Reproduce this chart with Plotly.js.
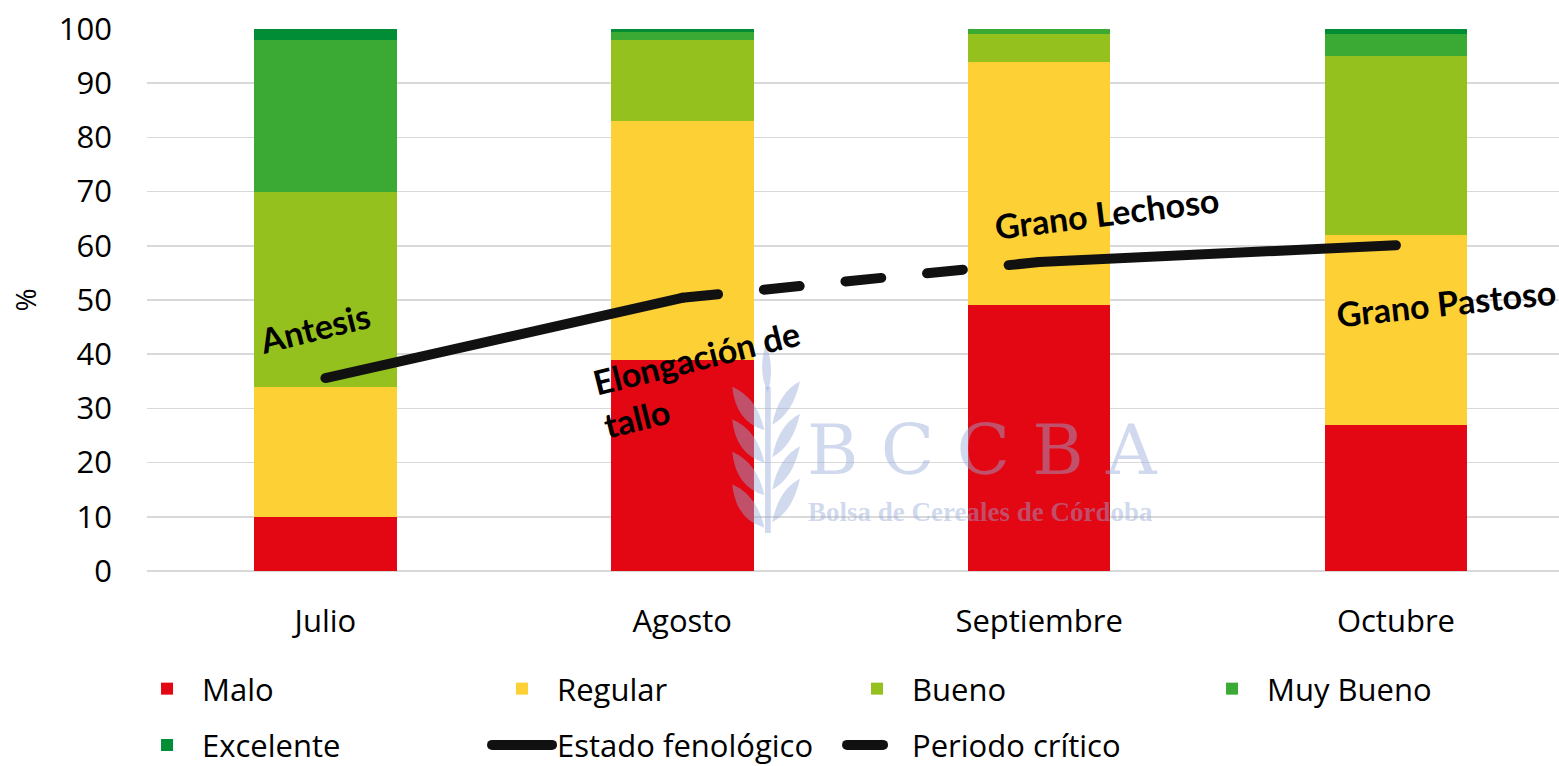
<!DOCTYPE html>
<html>
<head>
<meta charset="utf-8">
<script src="https://cdn.plot.ly/plotly-3.0.1.min.js"></script>
<style>
html,body{margin:0;padding:0;background:#fff;}
#chart{width:1559px;height:766px;}
.js-line{stroke-linecap:round;}
</style>
</head>
<body>
<div id="chart"></div>
<script>
const months = ["Julio", "Agosto", "Septiembre", "Octubre"];
const malo = [10, 39, 49, 27];
const regular = [24, 44, 45, 35];
const bueno = [36, 15, 5, 33];
const muyBueno = [28, 1.5, 1, 4];
const excelente = [2, 0.5, 0, 1];
const estadoA = [35.6, 50.4, null, null];
const estadoB = [null, null, 57, 60.1];
const periodo = [null, 50.4, 57, null];
const seriesNames = ["Malo", "Regular", "Bueno", "Muy Bueno", "Excelente", "Estado fenológico", "Periodo crítico"];
const colors = ["#e30613", "#fdd036", "#95c11f", "#3aaa35", "#008d36"];
const stageLabels = ["Antesis", "Elongación de<br>tallo", "Grano Lechoso", "Grano Pastoso"];

const FONT = "'Open Sans', 'Noto Sans', sans-serif";
const BFONT = "Lato, 'Noto Sans', sans-serif";
const FS = 31;
const barVals = [malo, regular, bueno, muyBueno, excelente];
const traces = barVals.map((v, i) => ({
  type: "bar", x: months, y: v, name: seriesNames[i],
  marker: {color: colors[i]}, width: 0.4,
  legend: i < 4 ? "legend" : "legend2",
  hoverinfo: "x+y+name"
}));
const lineStyle = {color: "#111111", width: 10};
traces.push({type: "scatter", mode: "lines", x: months, y: estadoA, name: seriesNames[5],
  line: lineStyle, legend: "legend2", legendgroup: "ef", connectgaps: false});
traces.push({type: "scatter", mode: "lines", x: months, y: estadoB, name: seriesNames[5],
  line: lineStyle, legend: "legend2", legendgroup: "ef", showlegend: false, connectgaps: false});
traces.push({type: "scatter", mode: "lines", x: months, y: periodo, name: seriesNames[6],
  line: {color: "#111111", width: 10, dash: "36px,46px"}, legend: "legend2", connectgaps: false});

const legendCommon = {orientation: "h", xanchor: "left", yanchor: "middle",
  entrywidth: 280, entrywidthmode: "pixels", itemwidth: 60,
  font: {family: FONT, size: FS, color: "#000"}, bgcolor: "rgba(0,0,0,0)", traceorder: "normal"};

const wm = "rgba(150,170,215,0.45)";
const annotations = [
  {text: stageLabels[0], x: -0.03, y: 45, xref: "x", yref: "y", textangle: -14},
  {text: stageLabels[1], x: 1.055, y: 35.5, xref: "x", yref: "y", textangle: -14, align: "left"},
  {text: stageLabels[2], x: 2.19, y: 66.2, xref: "x", yref: "y", textangle: -7},
  {text: stageLabels[3], x: 3.14, y: 49.6, xref: "x", yref: "y", textangle: -6}
].map(a => Object.assign({showarrow: false, font: {family: BFONT, size: 34, color: "#000", weight: "bold"}}, a));
annotations.push({text: "B C C B A", x: 1.84, y: 22.3, xref: "x", yref: "y", showarrow: false,
  font: {family: "'DejaVu Serif', 'Liberation Serif', serif", size: 70, color: wm}});
annotations.push({text: "Bolsa de Cereales de Córdoba", x: 1.835, y: 10.9, xref: "x", yref: "y", showarrow: false,
  font: {family: "'Liberation Serif', 'DejaVu Serif', serif", size: 27, color: wm, weight: "bold"}});

// wheat icon of the watermark (decorative)
const shapes = [];
const wx = 1.24, wy = 8;
shapes.push({type: "path", xref: "x", yref: "y", layer: "above", line: {width: 0}, fillcolor: wm,
  path: `M ${wx-0.008},${wy-1} L ${wx+0.008},${wy-1} L ${wx+0.008},${wy+26} L ${wx-0.008},${wy+26} Z`});
for (let k = 0; k < 4; k++) {
  const yy = wy + k * 6;
  shapes.push({type: "path", xref: "x", yref: "y", layer: "above", line: {width: 0}, fillcolor: wm,
    path: `M ${wx-0.01},${yy} Q ${wx-0.09},${yy+1.5} ${wx-0.1},${yy+8} Q ${wx-0.03},${yy+6} ${wx-0.01},${yy} Z`});
  shapes.push({type: "path", xref: "x", yref: "y", layer: "above", line: {width: 0}, fillcolor: wm,
    path: `M ${wx+0.012},${yy+1} Q ${wx+0.07},${yy+3} ${wx+0.09},${yy+9} Q ${wx+0.03},${yy+7} ${wx+0.012},${yy+1} Z`});
}
shapes.push({type: "path", xref: "x", yref: "y", layer: "above", line: {width: 0}, fillcolor: wm,
  path: `M ${wx},${wy+25} Q ${wx-0.03},${wy+29} ${wx-0.005},${wy+34} Q ${wx+0.02},${wy+29} ${wx},${wy+25} Z`});

const layout = {
  width: 1559, height: 766,
  margin: {l: 147, r: 0, t: 29, b: 195, autoexpand: false},
  paper_bgcolor: "#fff", plot_bgcolor: "#fff",
  barmode: "stack", bargap: 0.6,
  font: {family: FONT, size: FS, color: "#000"},
  xaxis: {type: "category", range: [-0.5, 3.457], showgrid: false, zeroline: false, showline: false,
    ticks: "", tickfont: {family: FONT, size: FS, color: "#000"}, ticklabelstandoff: 29, fixedrange: true},
  yaxis: {range: [0, 100], dtick: 10, showgrid: true, gridcolor: "#d9d9d9", gridwidth: 1.5,
    zeroline: true, zerolinecolor: "#d9d9d9", zerolinewidth: 1.5, showline: false, ticks: "",
    ticklabelstandoff: 34,
    tickfont: {family: FONT, size: FS, color: "#000"},
    title: {text: "%", font: {family: FONT, size: 28, color: "#000"}, standoff: 14}},
  legend: Object.assign({x: -0.0106, y: -0.2177}, legendCommon),
  legend2: Object.assign({x: -0.0106, y: -0.3215}, legendCommon),
  annotations: annotations,
  shapes: shapes,
  showlegend: true
};
Plotly.newPlot("chart", traces, layout, {displayModeBar: false, staticPlot: true});
</script>
</body>
</html>
